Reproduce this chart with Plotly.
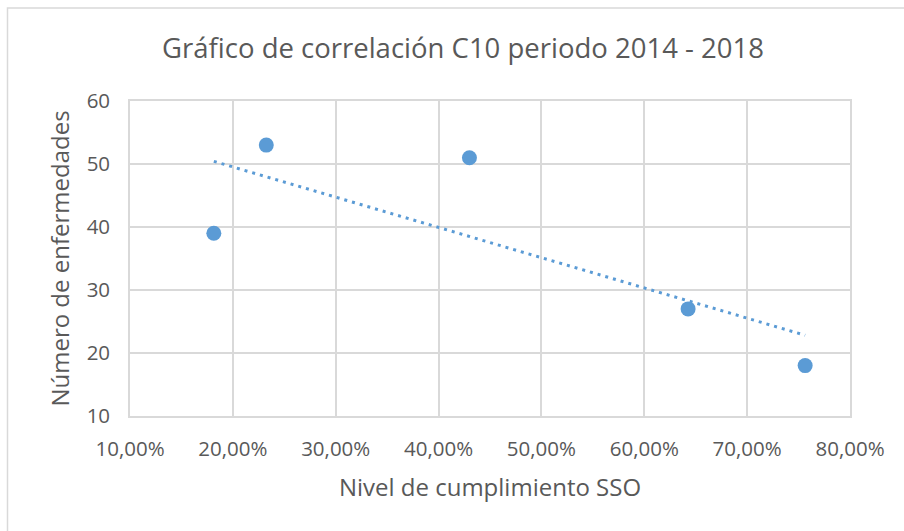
import numpy as np
import plotly.graph_objects as go

# Compliance level (fraction) vs number of illnesses, C10 2014-2018
cumplimiento = [0.1815, 0.2325, 0.430, 0.6426, 0.7564]
enfermedades = [39, 53, 51, 27, 18]

x_ticks = [0.1, 0.2, 0.3, 0.4, 0.5, 0.6, 0.7, 0.8]
y_ticks = [10, 20, 30, 40, 50, 60]

BLUE = "#5b9bd5"
GRID = "#d9d9d9"
TEXT = "#595959"
FONT = "Open Sans"

# Linear trend line (least squares) spanning the data range
slope, intercept = np.polyfit(cumplimiento, enfermedades, 1)
trend_x = [min(cumplimiento), max(cumplimiento)]
trend_y = [slope * v + intercept for v in trend_x]

fig = go.Figure()
fig.add_trace(go.Scatter(
    x=trend_x, y=trend_y, mode="lines",
    line=dict(color=BLUE, width=3, dash="3px,5px"),
    hoverinfo="skip", showlegend=False,
))
fig.add_trace(go.Scatter(
    x=cumplimiento, y=enfermedades, mode="markers",
    marker=dict(color=BLUE, size=15, line=dict(width=0)),
    showlegend=False,
))

W, H = 904, 531
ml, mr, mt, mb = 130, 54, 101, 115
pw, ph = W - ml - mr, H - mt - mb

# Outer chart frame
fig.add_shape(
    type="rect", xref="paper", yref="paper",
    x0=(7.5 - ml) / pw, x1=(W + 20 - ml) / pw,
    y0=-(mb + 20) / ph, y1=(H - mb - 8) / ph,
    line=dict(color=GRID, width=1.5), fillcolor="rgba(0,0,0,0)", layer="below",
)

fig.update_layout(
    width=W, height=H,
    margin=dict(l=ml, r=mr, t=mt, b=mb),
    paper_bgcolor="white", plot_bgcolor="white",
    separators=",.",
    font=dict(family=FONT, color=TEXT),
    title=dict(
        text="Gráfico de correlación C10 periodo 2014 - 2018",
        xref="container", yref="container",
        x=463 / W, xanchor="center", y=1 - 48 / H, yanchor="middle",
        font=dict(family=FONT, size=27.5, color=TEXT),
    ),
)
fig.update_xaxes(
    range=[0.1, 0.8], tickvals=x_ticks, tickformat=".2%",
    showgrid=True, gridcolor=GRID, gridwidth=1.6,
    showline=True, linecolor=GRID, linewidth=1.6, mirror=True,
    ticks="", zeroline=False, ticklabelstandoff=14,
    tickfont=dict(family=FONT, size=20.5, color=TEXT),
    title=dict(text="Nivel de cumplimiento SSO", standoff=18,
               font=dict(family=FONT, size=24, color=TEXT)),
)
fig.update_yaxes(
    range=[10, 60], tickvals=y_ticks,
    showgrid=True, gridcolor=GRID, gridwidth=1.6,
    showline=True, linecolor=GRID, linewidth=1.6, mirror=True,
    ticks="", zeroline=False, ticklabelstandoff=14,
    tickfont=dict(family=FONT, size=20.5, color=TEXT),
    title=dict(text="Número de enfermedades", standoff=10,
               font=dict(family=FONT, size=24, color=TEXT)),
)

fig.write_html("out.html")
